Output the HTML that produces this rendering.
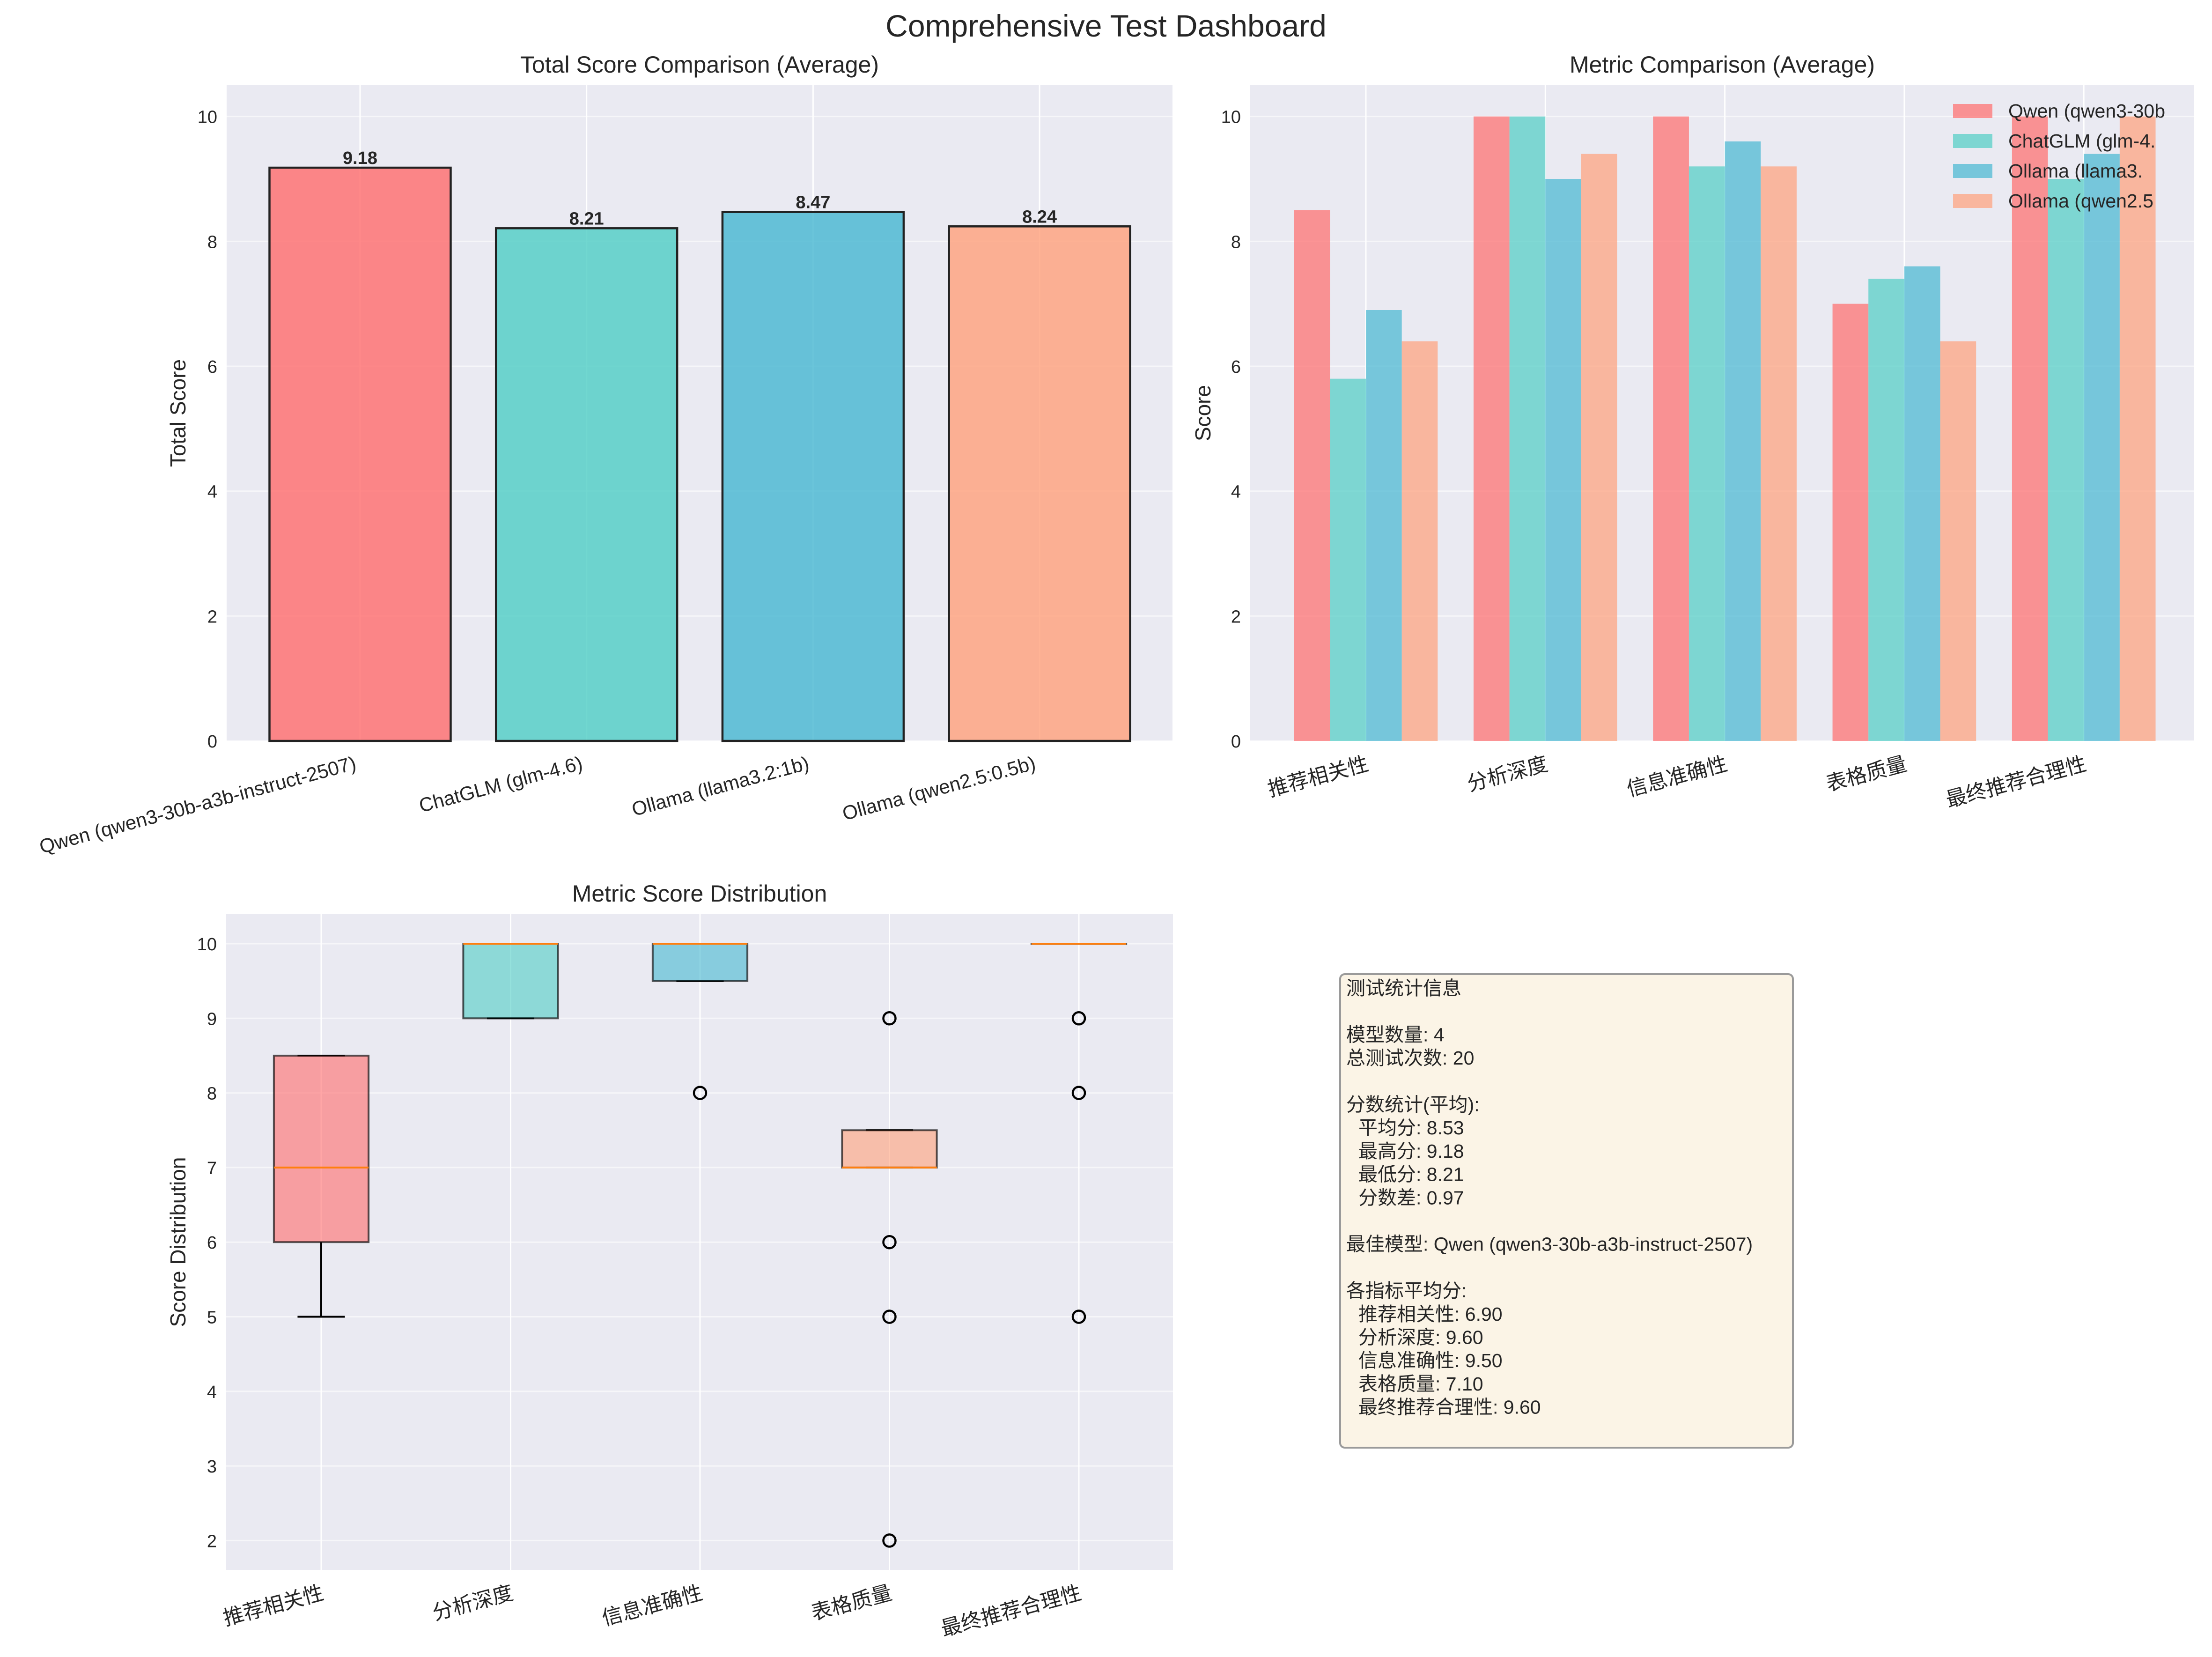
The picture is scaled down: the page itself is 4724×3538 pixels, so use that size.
<!DOCTYPE html>
<html><head><meta charset="utf-8"><style>
html,body{margin:0;padding:0;background:#fff;}
svg{display:block;}
text{font-family:"Liberation Sans","Noto Sans CJK SC",sans-serif;fill:#262626;}
.tick{font-size:38px;}
</style></head><body>
<svg id="fig" xmlns="http://www.w3.org/2000/svg" width="4724" height="3538" viewBox="0 0 4724 3538">
<text x="2362" y="78" text-anchor="middle" style="font-size:66px">Comprehensive Test Dashboard</text>
<g id="p1"></g>
<g id="p2"></g>
<g id="p3"></g>
<g id="p4">
<rect x="2862" y="2080" width="967" height="1011" rx="10" fill="#FBF4E6" stroke="#9a9a9a" stroke-width="4"/>
<text style="font-size:41px" x="2875" y="2124">
<tspan x="2875" dy="0">测试统计信息</tspan>
<tspan x="2875" dy="99.4">模型数量: 4</tspan>
<tspan x="2875" dy="49.7">总测试次数: 20</tspan>
<tspan x="2875" dy="99.4">分数统计(平均):</tspan>
<tspan x="2901" dy="49.7">平均分: 8.53</tspan>
<tspan x="2901" dy="49.7">最高分: 9.18</tspan>
<tspan x="2901" dy="49.7">最低分: 8.21</tspan>
<tspan x="2901" dy="49.7">分数差: 0.97</tspan>
<tspan x="2875" dy="99.4">最佳模型: Qwen (qwen3-30b-a3b-instruct-2507)</tspan>
<tspan x="2875" dy="99.4">各指标平均分:</tspan>
<tspan x="2901" dy="49.7">推荐相关性: 6.90</tspan>
<tspan x="2901" dy="49.7">分析深度: 9.60</tspan>
<tspan x="2901" dy="49.7">信息准确性: 9.50</tspan>
<tspan x="2901" dy="49.7">表格质量: 7.10</tspan>
<tspan x="2901" dy="49.7">最终推荐合理性: 9.60</tspan>
</text>
</g>
</svg>
<script>
const models = ["Qwen (qwen3-30b-a3b-instruct-2507)","ChatGLM (glm-4.6)","Ollama (llama3.2:1b)","Ollama (qwen2.5:0.5b)"];
const totalScores = [9.18, 8.21, 8.47, 8.24];
const legendLabels = ["Qwen (qwen3-30b","ChatGLM (glm-4.","Ollama (llama3.","Ollama (qwen2.5"];
const metrics = ["推荐相关性","分析深度","信息准确性","表格质量","最终推荐合理性"];
const qwenScores = [8.5, 10, 10, 7, 10];
const glmScores = [5.8, 10, 9.2, 7.4, 9.0];
const llamaScores = [6.9, 9.0, 9.6, 7.6, 9.4];
const qwen25Scores = [6.4, 9.4, 9.2, 6.4, 10];
const boxQ1 = [6, 9, 9.5, 7, 10];
const boxMed = [7, 10, 10, 7, 10];
const boxQ3 = [8.5, 10, 10, 7.5, 10];
const whiskLo = [5, 9, 9.5, 7, 10];
const whiskHi = [8.5, 10, 10, 7.5, 10];
const fliers = [[], [], [8], [9, 6, 5, 2], [9, 8, 5]];
const ticks1 = [0, 2, 4, 6, 8, 10];
const ticks3 = [2, 3, 4, 5, 6, 7, 8, 9, 10];

const colors = ["#FF6B6B","#4ECDC4","#45B7D1","#FFA07A","#98D8C8"];
const NS = "http://www.w3.org/2000/svg";
function mk(parent, tag, attrs, txt){
  const e = document.createElementNS(NS, tag);
  for (const k in attrs) e.setAttribute(k, attrs[k]);
  if (txt !== undefined) e.textContent = txt;
  parent.appendChild(e); return e;
}
function axesBg(g, L, T, R, B){
  const r = mk(g, "rect", {x:L, y:T, width:R-L, height:B-T, fill:"#EAEAF2"});
  
  
}
function hgrid(g, L, R, y){
  const l = mk(g, "line", {x1:L, x2:R, y1:y, y2:y, stroke:"#ffffff", "stroke-width":3, "stroke-opacity":0.55});
  
  
}
function vgrid(g, T, B, x){
  const l = mk(g, "line", {x1:x, x2:x, y1:T, y2:B, stroke:"#ffffff", "stroke-width":3});
  
  
}
function ytick(g, L, y, label){
  const t = mk(g, "text", {x:L-20, y:y+14, "text-anchor":"end", class:"tick"}, label);
  
  
}
function xtickRot(g, x, y, label, size){
  const t = mk(g, "text", {x:x, y:y, "text-anchor":"end", transform:`rotate(-15 ${x} ${y})`, style:`font-size:${size}px`}, label);
  
  
}
function title(g, x, y, s){
  const t = mk(g, "text", {x:x, y:y, "text-anchor":"middle", style:"font-size:50px"}, s);
  
  
}
function ylabel(g, x, y, s){
  const t = mk(g, "text", {x:x, y:y, "text-anchor":"middle", transform:`rotate(-90 ${x} ${y})`, style:"font-size:46px"}, s);
  
  
}

// Panel 1
(function(){
  const g = document.getElementById("p1");
  const L=484, R=2504, T=182, B=1582;
  const y = v => B - (v/10.5)*(B-T);
  const xc = i => 769 + i*483.7;
  const bw = 0.8*483.7;
  axesBg(g, L, T, R, B);
  ticks1.forEach(v => hgrid(g, L, R, y(v)));
  models.forEach((m,i) => vgrid(g, T, B, xc(i)));
  ticks1.forEach(v => ytick(g, L, y(v), String(v)));
  totalScores.forEach((v,i) => {
    const r = mk(g, "rect", {x:xc(i)-bw/2, y:y(v), width:bw, height:B-y(v), fill:colors[i], "fill-opacity":0.8, stroke:"#222", "stroke-width":4.5});
    
    
    const t = mk(g, "text", {x:xc(i), y:y(v)-8, "text-anchor":"middle", style:"font-size:38px;font-weight:bold"}, v.toFixed(2));
    
    
  });
  models.forEach((m,i) => xtickRot(g, xc(i)-6, B+60, m, 42));
  title(g, (L+R)/2, 155, "Total Score Comparison (Average)");
  ylabel(g, 396, (T+B)/2, "Total Score");
})();

// Panel 2
(function(){
  const g = document.getElementById("p2");
  const L=2670, R=4686, T=182, B=1582;
  const y = v => B - (v/10.5)*(B-T);
  const xc = i => 2917 + i*383.3;
  const bw = 0.2*383.3;
  const series = [qwenScores, glmScores, llamaScores, qwen25Scores];
  axesBg(g, L, T, R, B);
  ticks1.forEach(v => hgrid(g, L, R, y(v)));
  metrics.forEach((m,i) => vgrid(g, T, B, xc(i)));
  ticks1.forEach(v => ytick(g, L, y(v), String(v)));
  series.forEach((s,k) => {
    s.forEach((v,i) => {
      const cx = xc(i) + (k-1.5)*bw;
      const r = mk(g, "rect", {x:cx-bw/2, y:y(v), width:bw, height:B-y(v), fill:colors[k], "fill-opacity":0.7});
      
      
    });
  });
  metrics.forEach((m,i) => xtickRot(g, xc(i)+8, B+62, m, 44));
  title(g, (L+R)/2, 155, "Metric Comparison (Average)");
  ylabel(g, 2585, (T+B)/2, "Score");
  legendLabels.forEach((s,k) => {
    const ly = 236 + k*64;
    const p = mk(g, "rect", {x:4171, y:ly-14, width:84, height:30, fill:colors[k], "fill-opacity":0.7});
    
    
    const t = mk(g, "text", {x:4289, y:ly+15, style:"font-size:41px"}, s);
    
    
  });
})();

// Panel 3
(function(){
  const g = document.getElementById("p3");
  const L=483, R=2505, T=1952, B=3352;
  const y = v => 2015 + (10 - v)*159.3;
  const xc = i => 686 + i*404.5;
  const bw = 0.5*404.5, cw = 0.25*404.5;
  axesBg(g, L, T, R, B);
  ticks3.forEach(v => hgrid(g, L, R, y(v)));
  metrics.forEach((m,i) => vgrid(g, T, B, xc(i)));
  ticks3.forEach(v => ytick(g, L, y(v), String(v)));
  metrics.forEach((m,i) => {
    const x = xc(i);
    const w1 = mk(g, "line", {x1:x, x2:x, y1:y(whiskLo[i]), y2:y(boxQ1[i]), stroke:"#000", "stroke-width":4});
    
    
    const w2 = mk(g, "line", {x1:x, x2:x, y1:y(whiskHi[i]), y2:y(boxQ3[i]), stroke:"#000", "stroke-width":4});
    
    
    const c1 = mk(g, "line", {x1:x-cw/2, x2:x+cw/2, y1:y(whiskLo[i]), y2:y(whiskLo[i]), stroke:"#000", "stroke-width":4});
    
    
    const c2 = mk(g, "line", {x1:x-cw/2, x2:x+cw/2, y1:y(whiskHi[i]), y2:y(whiskHi[i]), stroke:"#000", "stroke-width":4});
    
    
    const b = mk(g, "rect", {x:x-bw/2, y:y(boxQ3[i]), width:bw, height:Math.max(0.5, y(boxQ1[i])-y(boxQ3[i])), fill:colors[i], "fill-opacity":0.6, stroke:"#000", "stroke-opacity":0.65, "stroke-width":4});
    
    
    const md = mk(g, "line", {x1:x-bw/2, x2:x+bw/2, y1:y(boxMed[i]), y2:y(boxMed[i]), stroke:"#ff7f0e", "stroke-width":4});
    
    
    fliers[i].forEach(f => {
      const c = mk(g, "circle", {cx:x, cy:y(f), r:13, fill:"none", stroke:"#000", "stroke-width":4.5});
      
      
    });
  });
  metrics.forEach((m,i) => xtickRot(g, xc(i)+8, B+62, m, 44));
  title(g, (L+R)/2, 1925, "Metric Score Distribution");
  ylabel(g, 396, (T+B)/2, "Score Distribution");
})();
</script>
</body></html>
